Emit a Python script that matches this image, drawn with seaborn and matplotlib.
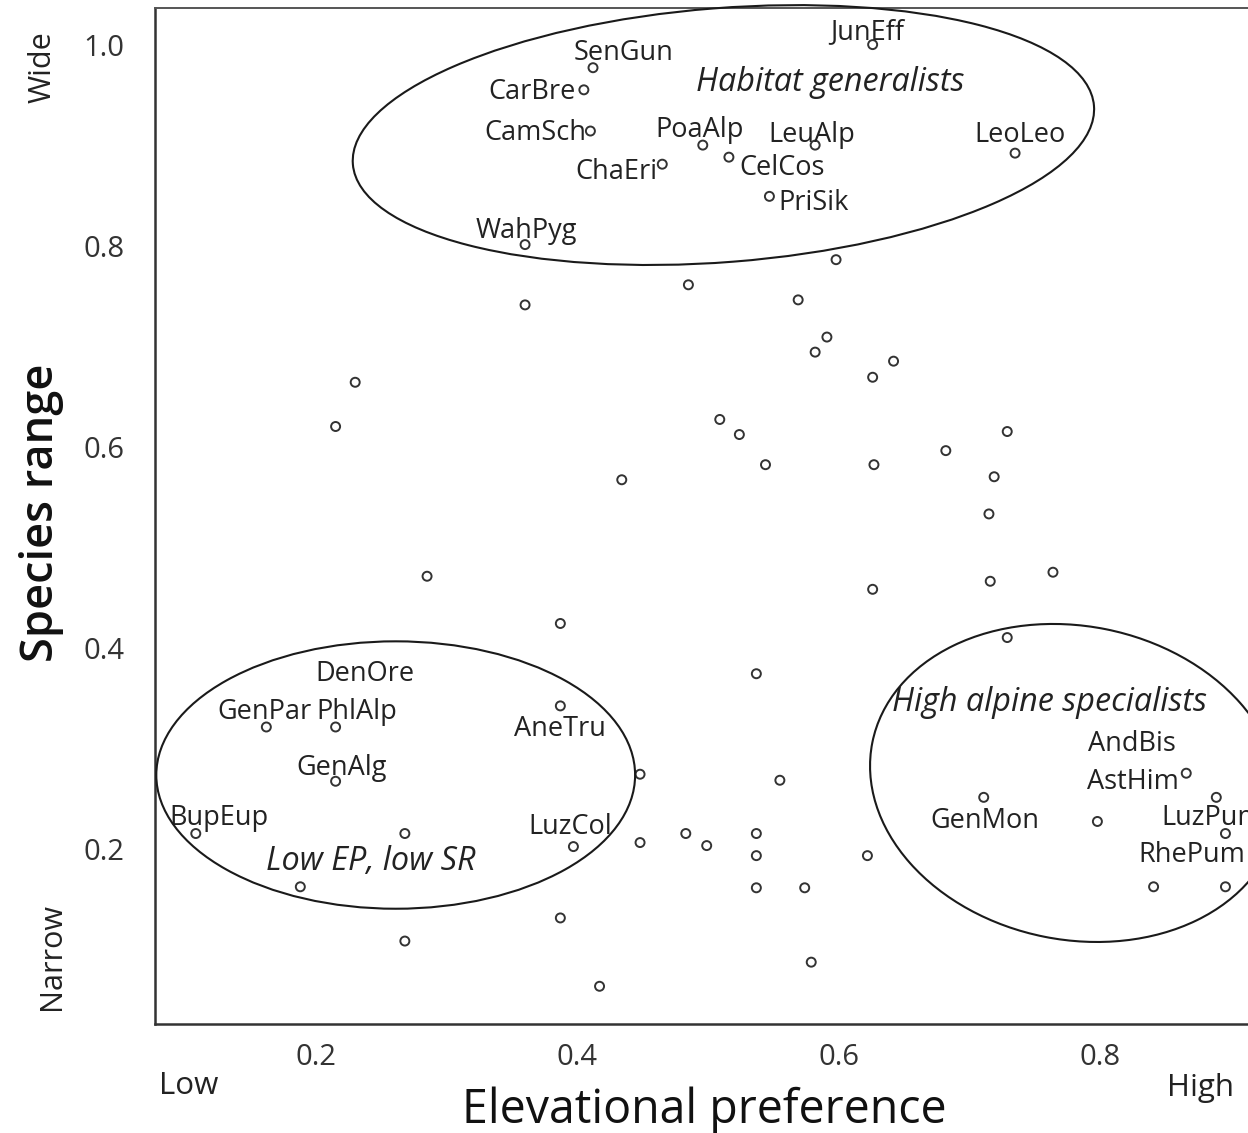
import numpy as np
import pandas as pd
import matplotlib
matplotlib.use("Agg")
import matplotlib.pyplot as plt
import matplotlib.transforms as mtransforms
from matplotlib.patches import Ellipse
import seaborn as sns

sns.set_theme(style="white")
plt.rcParams['font.family'] = ['Open Sans', 'DejaVu Sans']

# ---------------- data ----------------
species = (["JunEff", "SenGun", "CarBre", "CamSch", "PoaAlp", "LeuAlp", "LeoLeo",
            "CelCos", "ChaEri", "PriSik", "WahPyg"]
           + [""] * 26
           + ["AneTru", "GenPar", "PhlAlp", "GenAlg", "", "", "AstHim", "LuzPum",
              "GenMon", "", "BupEup", "", "", "", "LuzCol", "", "", "RhePum"]
           + [""] * 11)
elev_pref = [0.626, 0.412, 0.405, 0.410, 0.496, 0.582, 0.735,
             0.516, 0.465, 0.547, 0.360,
             0.598, 0.485, 0.360, 0.569, 0.591, 0.582, 0.642, 0.626, 0.230, 0.215,
             0.509, 0.524, 0.729, 0.682, 0.544, 0.627, 0.434, 0.719,
             0.715, 0.285, 0.626, 0.716, 0.764, 0.387, 0.729, 0.537,
             0.387, 0.162, 0.215, 0.215, 0.448, 0.555, 0.866, 0.889,
             0.711, 0.798, 0.108, 0.268, 0.483, 0.537, 0.397, 0.448, 0.499, 0.896,
             0.537, 0.622, 0.188, 0.537, 0.574, 0.841, 0.896, 0.387, 0.268, 0.579, 0.417]
species_range = [1.000, 0.977, 0.955, 0.914, 0.900, 0.900, 0.892,
                 0.888, 0.881, 0.849, 0.801,
                 0.786, 0.761, 0.741, 0.746, 0.709, 0.694, 0.685, 0.669, 0.664, 0.620,
                 0.627, 0.612, 0.615, 0.596, 0.582, 0.582, 0.567, 0.570,
                 0.533, 0.471, 0.458, 0.466, 0.475, 0.424, 0.410, 0.374,
                 0.342, 0.321, 0.321, 0.267, 0.274, 0.268, 0.275, 0.251,
                 0.251, 0.227, 0.215, 0.215, 0.215, 0.215, 0.202, 0.206, 0.203, 0.215,
                 0.193, 0.193, 0.162, 0.161, 0.161, 0.162, 0.162, 0.131, 0.108, 0.087, 0.063]

x_ticks = [0.2, 0.4, 0.6, 0.8]
y_ticks = [0.2, 0.4, 0.6, 0.8, 1.0]

free_labels = ["DenOre", "AndBis"]
free_label_pos = [(0.2375, 0.374), (0.8244, 0.3036)]

groups = ["Habitat generalists", "Low EP, low SR", "High alpine specialists"]
group_pos = [(0.5937, 0.9618), (0.2421, 0.1872), (0.7617, 0.3449)]

# ellipse: centre (data), semi-axes (px), angle (deg)
ellipse_centres = [(0.5118, 0.9100), (0.2610, 0.2732), (0.7809, 0.2653)]
ellipse_axes_px = [(371.7, 127.0), (239.4, 133.7), (206.7, 156.8)]
ellipse_angles = [4.5, 0.0, -11.3]

# label offsets (px, right/down) from their points
label_offsets = {
    "JunEff": (-5, -15), "SenGun": (31, -17), "CarBre": (-52, 0), "CamSch": (-55, -1),
    "PoaAlp": (-3, -18), "LeuAlp": (-3, -13), "LeoLeo": (5, -21), "CelCos": (53, 8),
    "ChaEri": (-46, 5), "PriSik": (44, 4), "WahPyg": (1, -16),
    "AneTru": (0, 21), "GenPar": (-2, -17), "PhlAlp": (21, -17), "GenAlg": (6, -16),
    "BupEup": (23, -18), "LuzCol": (-3, -22), "AstHim": (-53, 6), "GenMon": (1, 21),
    "LuzPum": (-4, 18), "RhePum": (-34, 19),
}

df = pd.DataFrame({"species": species, "elev": elev_pref, "range": species_range})

# ---------------- figure ----------------
W, H = 1248, 1133
fig = plt.figure(figsize=(W / 100, H / 100), dpi=100)
ax = fig.add_axes([155 / W, (H - 1024) / H, (1300 - 155) / W, (1024 - 8) / H])

sns.scatterplot(data=df, x="elev", y="range", ax=ax, marker="o", s=42,
                facecolors="none", edgecolors="#333333", linewidth=1.4,
                legend=False, zorder=3)

ax.set_xlim(0.07679, 0.95305)
ax.set_ylim(0.02547, 1.03642)
ax.set_xticks(x_ticks)
ax.set_xticklabels([f"{v:.1f}" for v in x_ticks])
ax.set_yticks(y_ticks)
ax.set_yticklabels([f"{v:.1f}" for v in y_ticks])
ax.tick_params(axis="both", direction="in", length=6, width=1.1, color="#333333",
               labelsize=21, labelcolor="#333333")
ax.tick_params(axis="y", pad=22)
ax.tick_params(axis="x", pad=14)
ax.set_xlabel("")
ax.set_ylabel("")

for side in ["left", "bottom"]:
    ax.spines[side].set_color("#333333")
    ax.spines[side].set_linewidth(1.8)
ax.spines["top"].set_color("#555555")
ax.spines["top"].set_linewidth(1.4)
ax.spines["right"].set_visible(False)

# point labels
for name, xv, yv in zip(species, elev_pref, species_range):
    if name:
        dx, dy = label_offsets[name]
        ax.annotate(name, (xv, yv), xytext=(dx * 0.72, -(dy + 2.5) * 0.72),
                    textcoords="offset points", ha="center", va="center",
                    fontsize=19.5, color="#222222", zorder=4)
for name, (xv, yv) in zip(free_labels, free_label_pos):
    ax.text(xv, yv, name, ha="center", va="center", fontsize=19.5, color="#222222")

for name, (xv, yv) in zip(groups, group_pos):
    ax.text(xv, yv, name, ha="center", va="center", fontsize=23.3, style="italic",
            color="#222222")

# ellipses
for (cx, cy), (a, b), ang in zip(ellipse_centres, ellipse_axes_px, ellipse_angles):
    tr = mtransforms.Affine2D().scale(fig.dpi / 72.0) + \
        mtransforms.ScaledTranslation(cx, cy, ax.transData)
    e = Ellipse((0, 0), 2 * a * 0.72, 2 * b * 0.72, angle=ang, transform=tr,
                fill=False, edgecolor="#1a1a1a", linewidth=1.5, clip_on=False,
                zorder=2)
    fig.add_artist(e)

# axis titles and end labels
fig.text(704 / W, 1 - 1110 / H, "Elevational preference", ha="center", va="center",
         fontsize=33.5, color="#111111")
fig.text(42 / W, 1 - 513 / H, "Species range", ha="center", va="center",
         rotation=90, fontsize=32.5, color="#111111", weight="semibold")
fig.text(189 / W, 1 - 1086 / H, "Low", ha="center", va="center", fontsize=22.5,
         color="#222222")
fig.text(1200 / W, 1 - 1088 / H, "High", ha="center", va="center", fontsize=22.5,
         color="#222222")
fig.text(43 / W, 1 - 67 / H, "Wide", ha="center", va="center", rotation=90,
         fontsize=22, color="#222222")
fig.text(52 / W, 1 - 957 / H, "Narrow", ha="center", va="center", rotation=90,
         fontsize=22, color="#222222")

fig.savefig("out.png", dpi=100)
